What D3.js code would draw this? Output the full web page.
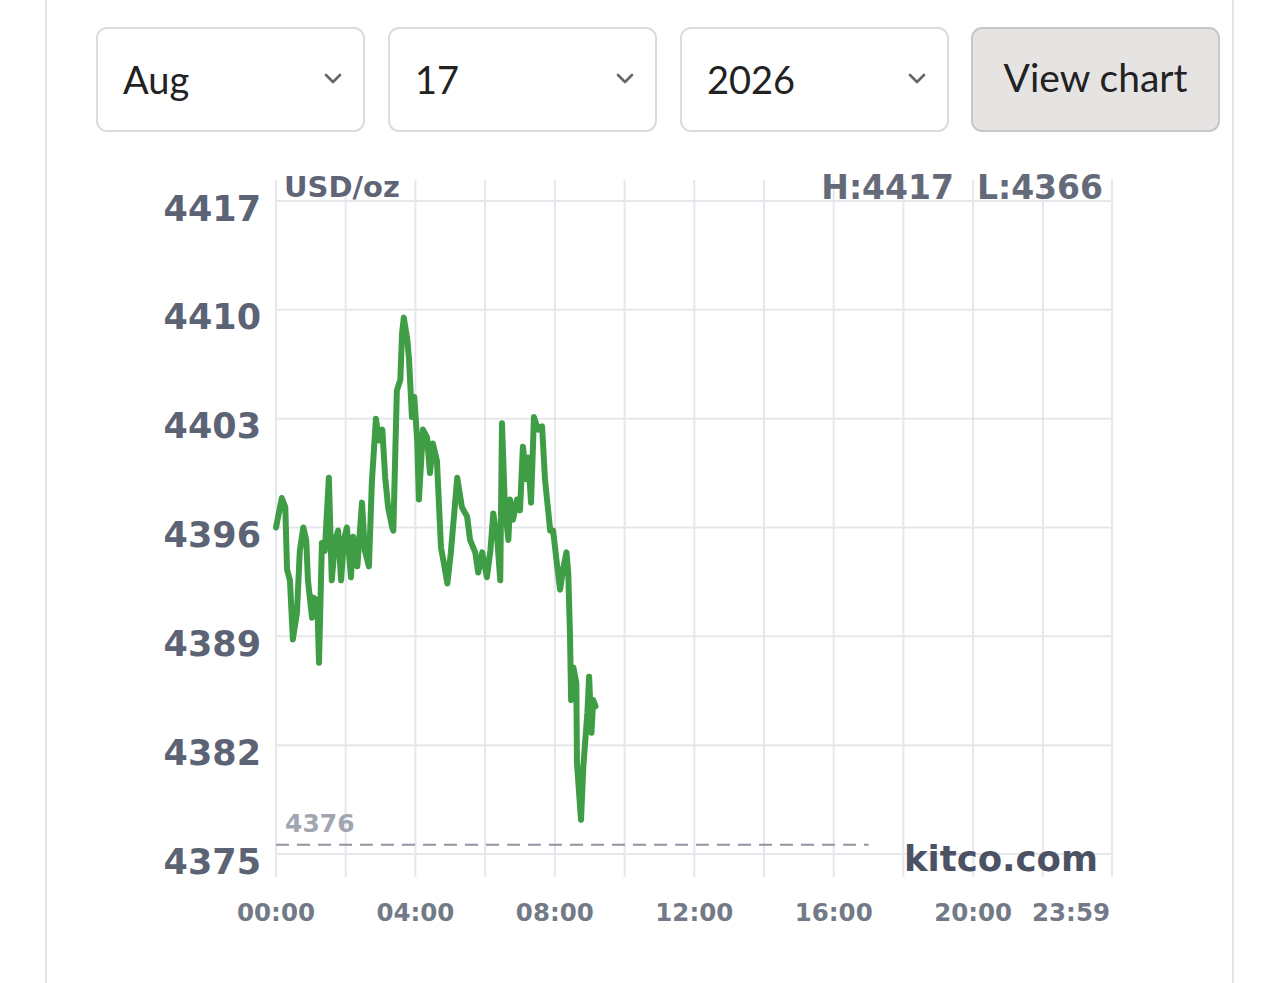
<!DOCTYPE html>
<html>
<head>
<meta charset="utf-8">
<script src="https://cdn.jsdelivr.net/npm/d3@7"></script>
<style>
  html, body { margin: 0; padding: 0; background: #ffffff; }
  svg { display: block; }
</style>
</head>
<body>
<svg id="chart" width="1280" height="983"></svg>
<script>
// ---- data ----
const months = ["Aug"];
const days = ["17"];
const years = ["2026"];
const buttonLabel = "View chart";

const times = ["00:00","00:10","00:16","00:19","00:24","00:29","00:36","00:41","00:47","00:52","00:55",
  "01:02","01:04","01:11","01:14","01:19","01:24","01:31","01:36","01:42","01:47","01:52","01:57",
  "02:02","02:09","02:13","02:20","02:28","02:33","02:40","02:45","02:52","02:57",
  "03:03","03:08","03:13","03:20","03:22","03:28","03:34","03:37","03:40","03:46","03:49","03:54","03:58",
  "04:03","04:06","04:13","04:20","04:25","04:30","04:37","04:44","04:48","04:55",
  "05:01","05:12","05:20","05:29","05:34","05:43","05:48","05:55",
  "06:03","06:09","06:14","06:21","06:26","06:29","06:34","06:40","06:43","06:48","06:55",
  "07:00","07:05","07:11","07:14","07:19","07:24","07:31","07:38","07:43","07:52","07:57",
  "08:04","08:09","08:14","08:20","08:23","08:26","08:28","08:32","08:37","08:38","08:45","08:49","08:56","08:59",
  "09:03","09:06","09:10"];
const prices = [4396.0,4397.9,4397.3,4393.3,4392.6,4388.8,4390.5,4394.5,4396.0,4395.2,4392.6,
  4390.2,4391.5,4391.3,4387.3,4395.0,4394.5,4399.2,4392.6,4395.2,4395.8,4392.6,4395.2,
  4396.0,4392.8,4395.4,4393.5,4397.6,4394.5,4393.5,4398.9,4403.0,4401.6,
  4402.3,4399.2,4397.3,4396.0,4395.8,4404.8,4405.5,4408.5,4409.5,4408.1,4406.8,4403.1,4404.4,
  4401.6,4397.8,4402.3,4401.8,4399.5,4401.4,4400.3,4394.7,4393.9,4392.4,
  4394.4,4399.2,4397.3,4396.7,4395.2,4394.4,4393.1,4394.4,
  4392.8,4394.5,4396.9,4395.2,4392.6,4402.7,4397.3,4395.2,4397.8,4396.5,4397.8,
  4397.1,4401.2,4399.1,4400.5,4397.6,4403.1,4402.3,4402.5,4399.1,4395.8,4395.8,
  4393.5,4392.0,4393.3,4394.4,4393.1,4389.2,4384.9,4387.0,4386.0,4380.9,4377.2,4380.6,4384.1,4386.4,
  4382.8,4384.9,4384.5];

const yTicks = [4417, 4410, 4403, 4396, 4389, 4382, 4375];
const xTickLabels = ["00:00","04:00","08:00","12:00","16:00","20:00","23:59"];
const gridTimes = ["00:00","02:00","04:00","06:00","08:00","10:00","12:00","14:00","16:00","18:00","20:00","22:00","23:59"];
const unitLabel = "USD/oz";
const highLabel = "H:4417";
const lowLabel = "L:4366";
const prevClose = 4375.6;
const prevCloseLabel = "4376";
const prevCloseEnd = "17:00";
const watermark = "kitco.com";

// ---- layout ----
const svg = d3.select("#chart");
const parse = d3.timeParse("%H:%M");
const plotLeft = 276, plotRight = 1112, plotTop = 201, plotBottom = 854;
const x = d3.scaleTime().domain([parse("00:00"), parse("23:59")]).range([plotLeft, plotRight]);
const y = d3.scaleLinear().domain([4375, 4417]).range([plotBottom, plotTop]);

// page side borders
svg.append("line").attr("x1", 46).attr("x2", 46).attr("y1", 0).attr("y2", 983)
  .attr("stroke", "#e4e4e8").attr("stroke-width", 2);
svg.append("line").attr("x1", 1233).attr("x2", 1233).attr("y1", 0).attr("y2", 983)
  .attr("stroke", "#e4e4e8").attr("stroke-width", 2);

// ---- controls ----
const ctrlFont = "Lato, 'Open Sans', sans-serif";
const selects = [
  { label: months[0], x0: 96 },
  { label: days[0], x0: 388 },
  { label: years[0], x0: 680 }
];
const selW = 269, selH = 105, selY = 27;
const sel = svg.append("g").selectAll("g").data(selects).join("g");
sel.append("rect").attr("x", d => d.x0 + 1).attr("y", selY + 1)
  .attr("width", selW - 2).attr("height", selH - 2).attr("rx", 10)
  .attr("fill", "#fff").attr("stroke", "#dcdcde").attr("stroke-width", 2);
sel.append("text").attr("x", d => d.x0 + 27).attr("y", 94)
  .attr("font-family", ctrlFont).attr("font-size", 38).attr("fill", "#222")
  .text(d => d.label);
sel.append("path")
  .attr("d", d => { const cx = d.x0 + 237, cy = 79; return `M${cx-7},${cy-4} L${cx},${cy+3} L${cx+7},${cy-4}`; })
  .attr("fill", "none").attr("stroke", "#666").attr("stroke-width", 2.6)
  .attr("stroke-linecap", "round").attr("stroke-linejoin", "round");

svg.append("rect").attr("x", 972).attr("y", selY + 1).attr("width", 247).attr("height", selH - 2)
  .attr("rx", 10).attr("fill", "#e6e3e3").attr("stroke", "#c9c6c6").attr("stroke-width", 2);
svg.append("text").attr("x", 1095.5).attr("y", 92).attr("text-anchor", "middle")
  .attr("font-family", ctrlFont).attr("font-size", 39).attr("fill", "#222")
  .text(buttonLabel);

// ---- chart ----
const g = svg.append("g");
const chartFont = "'DejaVu Sans', sans-serif";
const gridColor = "#e6e7ec";

// vertical grid
g.append("g").selectAll("line").data(gridTimes).join("line")
  .attr("x1", d => x(parse(d))).attr("x2", d => x(parse(d)))
  .attr("y1", 180).attr("y2", 877)
  .attr("stroke", gridColor).attr("stroke-width", 2);
// horizontal grid
g.append("g").selectAll("line").data(yTicks).join("line")
  .attr("x1", plotLeft).attr("x2", plotRight)
  .attr("y1", d => y(d)).attr("y2", d => y(d))
  .attr("stroke", gridColor).attr("stroke-width", 2);

// y labels
g.append("g").selectAll("text").data(yTicks).join("text")
  .attr("x", 261).attr("y", d => y(d) + 7)
  .attr("dy", "0.36em").attr("text-anchor", "end")
  .attr("font-family", chartFont).attr("font-weight", "bold").attr("font-size", 35)
  .attr("fill", "#5c6374").text(d => d);

// x labels
g.append("g").selectAll("text").data(xTickLabels).join("text")
  .attr("x", (d, i) => i === xTickLabels.length - 1 ? x(parse(d)) - 2 : x(parse(d)))
  .attr("y", 921)
  .attr("text-anchor", (d, i) => i === xTickLabels.length - 1 ? "end" : "middle")
  .attr("font-family", chartFont).attr("font-weight", "bold").attr("font-size", 24.5)
  .attr("fill", "#737a87").text(d => d);

// unit & H/L
g.append("text").attr("x", 284).attr("y", 197)
  .attr("font-family", chartFont).attr("font-weight", "bold").attr("font-size", 29)
  .attr("fill", "#5f6577").text(unitLabel);
g.append("text").attr("x", 1103).attr("y", 199).attr("text-anchor", "end")
  .attr("font-family", chartFont).attr("font-weight", "bold").attr("font-size", 33)
  .attr("fill", "#646a78").attr("xml:space", "preserve").text(highLabel + "  " + lowLabel);

// prev close dashed line
g.append("line").attr("x1", plotLeft).attr("x2", x(parse(prevCloseEnd)))
  .attr("y1", y(prevClose)).attr("y2", y(prevClose))
  .attr("stroke", "#8f95a1").attr("stroke-width", 2).attr("stroke-dasharray", "13,8");
g.append("text").attr("x", 285).attr("y", 832)
  .attr("font-family", chartFont).attr("font-weight", "bold").attr("font-size", 25)
  .attr("fill", "#a0a5b0").text(prevCloseLabel);

// watermark
g.append("text").attr("x", 1098).attr("y", 871).attr("text-anchor", "end")
  .attr("font-family", chartFont).attr("font-weight", "bold").attr("font-size", 35.5)
  .attr("fill", "#4b5264").text(watermark);

// price line
const pts = times.map((t, i) => ({ t: parse(t), v: prices[i] }));
g.append("path").datum(pts)
  .attr("d", d3.line().x(d => x(d.t)).y(d => y(d.v)))
  .attr("fill", "none").attr("stroke", "#3f9d46").attr("stroke-width", 6)
  .attr("stroke-linejoin", "round").attr("stroke-linecap", "round");
</script>
</body>
</html>
